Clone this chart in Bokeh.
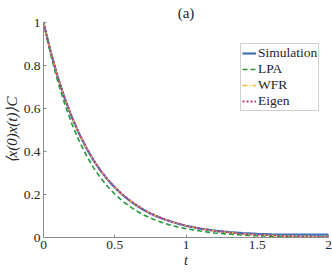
from bokeh.plotting import figure
from bokeh.models import Range1d, FixedTicker, Legend, LegendItem
from bokeh.embed import file_html
from bokeh.resources import INLINE

# ---- data ----
t = [0.0, 0.05, 0.1, 0.15, 0.2, 0.25, 0.3, 0.35, 0.4, 0.45, 0.5, 0.55, 0.6, 0.65, 0.7,
     0.75, 0.8, 0.85, 0.9, 0.95, 1.0, 1.1, 1.2, 1.3, 1.4, 1.5, 1.6, 1.7, 1.8, 1.9, 2.0]
simulation = [1.0, 0.864, 0.746, 0.645, 0.558, 0.482, 0.417, 0.360, 0.311, 0.269, 0.233,
              0.201, 0.174, 0.150, 0.129, 0.112, 0.097, 0.084, 0.073, 0.063, 0.054,
              0.041, 0.032, 0.025, 0.020, 0.017, 0.015, 0.014, 0.013, 0.014, 0.013]
lpa = [1.0, 0.852, 0.726, 0.619, 0.527, 0.449, 0.383, 0.326, 0.278, 0.237, 0.202,
       0.172, 0.147, 0.125, 0.106, 0.091, 0.077, 0.066, 0.056, 0.048, 0.041,
       0.030, 0.021, 0.016, 0.011, 0.008, 0.006, 0.004, 0.003, 0.002, 0.002]
wfr = [1.0, 0.865, 0.747, 0.646, 0.559, 0.483, 0.418, 0.361, 0.312, 0.270, 0.234,
       0.202, 0.175, 0.151, 0.130, 0.113, 0.097, 0.084, 0.073, 0.063, 0.054,
       0.041, 0.030, 0.023, 0.017, 0.013, 0.010, 0.007, 0.005, 0.004, 0.003]
eigen = [1.0, 0.865, 0.748, 0.647, 0.560, 0.484, 0.419, 0.362, 0.313, 0.271, 0.235,
         0.203, 0.176, 0.152, 0.131, 0.114, 0.098, 0.085, 0.074, 0.064, 0.055,
         0.041, 0.031, 0.023, 0.017, 0.013, 0.010, 0.007, 0.005, 0.004, 0.003]

x_ticks = [0, 0.5, 1, 1.5, 2]
x_tick_labels = ["0", "0.5", "1", "1.5", "2"]
y_ticks = [0, 0.2, 0.4, 0.6, 0.8, 1]
y_tick_labels = ["0", "0.2", "0.4", "0.6", "0.8", "1"]

series_names = ["Simulation", "LPA", "WFR", "Eigen"]

FONT = "Liberation Serif"
AXIS_GRAY = "#8a8a8a"
TEXT = "#262626"

p = figure(width=332, height=272, output_backend="svg", toolbar_location=None,
           x_range=Range1d(0, 2), y_range=Range1d(0, 1),
           min_border_left=40, min_border_right=4, min_border_top=21, min_border_bottom=35)
p.outline_line_color = None
p.grid.visible = False
p.background_fill_color = "white"
p.border_fill_color = "white"

p.title.text = "(a)"
p.title.align = "center"
p.title.text_font = FONT
p.title.text_font_style = "normal"
p.title.text_font_size = "15px"
p.title.text_color = TEXT
p.title.standoff = 4

for ax, ticks, labels in ((p.xaxis[0], x_ticks, x_tick_labels), (p.yaxis[0], y_ticks, y_tick_labels)):
    ax.ticker = FixedTicker(ticks=ticks)
    ax.major_label_overrides = {tk: lb for tk, lb in zip(ticks, labels)}
    ax.minor_tick_line_color = None
    ax.major_tick_in = 3
    ax.major_tick_out = 0
    ax.major_tick_line_color = AXIS_GRAY
    ax.axis_line_color = AXIS_GRAY
    ax.major_label_text_font = FONT
    ax.major_label_text_font_size = "13.5px"
    ax.major_label_text_color = TEXT
    ax.major_label_standoff = 3
    ax.axis_label_text_font = FONT
    ax.axis_label_text_font_style = "italic"
    ax.axis_label_text_color = TEXT
    ax.axis_label_standoff = 1

p.xaxis.axis_label = "t"
p.xaxis.axis_label_text_font_size = "14px"
p.yaxis.axis_label = "⟨x(0)x(t)⟩C"
p.yaxis.axis_label_text_font_size = "15px"

r_sim = p.line(t, simulation, line_color="#3f73b3", line_width=2.2)
r_lpa = p.line(t, lpa, line_color="#23983a", line_width=1.6, line_dash="5 3")
r_wfr = p.line(t, wfr, line_color="#e2c030", line_width=1.4, line_dash="5 2 1 2")
r_eig = p.line(t, eigen, line_color="#c4338a", line_width=1.8, line_dash="2 2")

legend = Legend(items=[LegendItem(label=n, renderers=[r]) for n, r in
                       zip(series_names, [r_sim, r_lpa, r_wfr, r_eig])],
                location=(197, 126))
legend.margin = 0
legend.padding = 1
legend.spacing = 0
legend.glyph_width = 14
legend.glyph_height = 16
legend.label_height = 16
legend.label_standoff = 2
legend.label_text_font = FONT
legend.label_text_font_size = "13.5px"
legend.label_text_color = TEXT
legend.border_line_color = "#a0a0a0"
legend.border_line_width = 1
legend.background_fill_color = "white"
legend.background_fill_alpha = 1
p.add_layout(legend)

open("out.html", "w").write(file_html(p, INLINE))
